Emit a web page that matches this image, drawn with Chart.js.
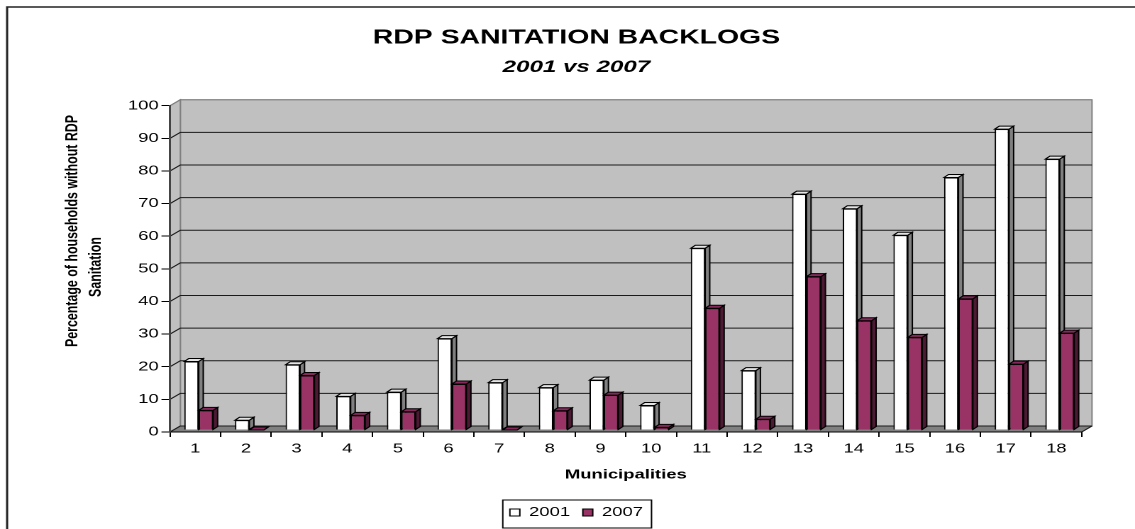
<!DOCTYPE html>
<html>
<head>
<meta charset="utf-8">
<script src="https://cdn.jsdelivr.net/npm/chart.js@4/dist/chart.umd.min.js"></script>
<style>
  html, body { margin: 0; padding: 0; background: #ffffff; overflow: hidden; }
  #wrap { width: 800px; height: 529px; transform: scaleX(1.41875); transform-origin: 0 0; }
  canvas { display: block; }
</style>
</head>
<body>
<div id="wrap"><canvas id="chart" width="800" height="529"></canvas></div>
<script>
// Municipalities on the category axis
const municipalities = ['1','2','3','4','5','6','7','8','9','10','11','12','13','14','15','16','17','18'];
// Share of households without RDP sanitation (%)
const backlog2001 = [21, 3, 20, 10.3, 11.6, 28, 14.5, 13, 15.3, 7.5, 55.7, 18.2, 72.3, 67.8, 59.7, 77.4, 92.2, 83];
const backlog2007 = [6, 0, 16.7, 4.5, 5.6, 14.1, 0, 5.9, 10.7, 0.8, 37.3, 3.3, 47, 33.5, 28.4, 40.2, 20.2, 29.7];
// Value axis ticks
const yTicks = [0, 10, 20, 30, 40, 50, 60, 70, 80, 90, 100];
const seriesNames = ['2001', '2007'];

// 3D look: wall depth, bar placement inside the box and bar thickness
const WALL_DX = 7.3, WALL_DY = -6;
const BAR_SHIFT_X = 2.4, BAR_SHIFT_Y = -2;
const BAR_DX = 3.2, BAR_DY = -3;

Chart.defaults.font.family = "'Liberation Sans', Arial, sans-serif";
Chart.defaults.color = '#000';

function poly(ctx, pts, fill, stroke) {
  ctx.beginPath();
  ctx.moveTo(pts[0][0], pts[0][1]);
  for (let i = 1; i < pts.length; i++) ctx.lineTo(pts[i][0], pts[i][1]);
  ctx.closePath();
  if (fill) { ctx.fillStyle = fill; ctx.fill(); }
  if (stroke) { ctx.strokeStyle = stroke; ctx.lineWidth = 1; ctx.stroke(); }
}

// side and top faces of one bar element
function barFaces(ctx, bar, ds) {
  const {x, y, base, width} = bar.getProps(['x', 'y', 'base', 'width'], true);
  const l = x - width / 2, r = x + width / 2;
  poly(ctx, [[r, y], [r + BAR_DX, y + BAR_DY], [r + BAR_DX, base + BAR_DY], [r, base]], ds.sideColor, '#000');
  poly(ctx, [[l, y], [l + BAR_DX, y + BAR_DY], [r + BAR_DX, y + BAR_DY], [r, y]], ds.topColor, '#000');
}

// Back wall, side wall, floor and wall gridlines; bar depth faces
const boxPlugin = {
  id: 'box3d',
  beforeDraw(chart) {
    const ctx = chart.ctx;
    const {left: L, right: R, top: T, bottom: B} = chart.chartArea;
    const ys = chart.scales.y;
    ctx.save();
    // outer frame
    ctx.strokeStyle = '#222';
    ctx.lineWidth = 1.5;
    ctx.strokeRect(5, 7, 900, 700);
    // back wall
    poly(ctx, [[L + WALL_DX, T + WALL_DY], [R + WALL_DX, T + WALL_DY], [R + WALL_DX, B + WALL_DY], [L + WALL_DX, B + WALL_DY]], '#c0c0c0', '#808080');
    // left wall
    poly(ctx, [[L, T], [L + WALL_DX, T + WALL_DY], [L + WALL_DX, B + WALL_DY], [L, B]], '#c0c0c0', '#808080');
    // floor
    poly(ctx, [[L, B], [R, B], [R + WALL_DX, B + WALL_DY], [L + WALL_DX, B + WALL_DY]], '#808080', null);
    // gridlines on the walls
    ctx.lineWidth = 1;
    yTicks.forEach(v => {
      const y = ys.getPixelForValue(v);
      ctx.strokeStyle = v === yTicks[yTicks.length - 1] ? '#808080' : '#1a1a1a';
      ctx.beginPath();
      ctx.moveTo(L, y);
      ctx.lineTo(L + WALL_DX, y + WALL_DY);
      ctx.lineTo(R + WALL_DX, y + WALL_DY);
      ctx.stroke();
    });
    // right edge of the floor
    ctx.strokeStyle = '#1a1a1a';
    ctx.beginPath();
    ctx.moveTo(R, B);
    ctx.lineTo(R + WALL_DX, B + WALL_DY);
    ctx.stroke();
    ctx.restore();
  },
  beforeDatasetsDraw(chart) {
    chart.ctx.save();
    chart.ctx.translate(BAR_SHIFT_X, BAR_SHIFT_Y);
  },
  afterDatasetsDraw(chart) {
    const ctx = chart.ctx;
    const front = chart.getDatasetMeta(0), back = chart.getDatasetMeta(1);
    const ds0 = chart.data.datasets[0], ds1 = chart.data.datasets[1];
    // per municipality: 2001 depth faces, then the 2007 bar on top of them
    front.data.forEach((bar, i) => {
      barFaces(ctx, bar, ds0);
      const bar2 = back.data[i];
      bar2.draw(ctx);
      barFaces(ctx, bar2, ds1);
    });
    ctx.restore();
  },
  afterDraw(chart) {
    const ctx = chart.ctx;
    ctx.save();
    // value axis title
    ctx.fillStyle = '#000';
    ctx.font = "bold 12.4px 'Liberation Sans', Arial, sans-serif";
    ctx.textAlign = 'center';
    ctx.textBaseline = 'middle';
    [['Percentage of households without RDP', 51.1, 231], ['Sanitation', 67.7, 267]].forEach(([t, x, y]) => {
      ctx.save();
      ctx.translate(x, y);
      ctx.rotate(-Math.PI / 2);
      ctx.fillText(t, 0, 0);
      ctx.restore();
    });
    // legend frame
    const lg = chart.legend;
    const hb = lg.legendHitBoxes;
    if (hb && hb.length) {
      const first = hb[0], last = hb[hb.length - 1];
      ctx.strokeStyle = '#000';
      ctx.lineWidth = 1;
      ctx.strokeRect(first.left - 5, lg.top + 3, last.left + last.width + 6 - (first.left - 5), 28);
    }
    ctx.restore();
  }
};

new Chart(document.getElementById('chart'), {
  type: 'bar',
  data: {
    labels: municipalities,
    datasets: [
      { label: seriesNames[0], data: backlog2001, backgroundColor: '#ffffff', borderColor: '#000', borderWidth: 1,
        sideColor: '#808080', topColor: '#e4e4e4', clip: false },
      { label: seriesNames[1], data: backlog2007, backgroundColor: '#993366', borderColor: '#000', borderWidth: 1,
        sideColor: '#4d1a33', topColor: '#85295a', clip: false }
    ]
  },
  options: {
    responsive: false,
    devicePixelRatio: 2,
    animation: false,
    events: [],
    layout: { padding: { left: 50.2, right: 37.6, top: 0, bottom: 0 } },
    datasets: { bar: { categoryPercentage: 0.569, barPercentage: 1.0 } },
    plugins: {
      title: {
        display: true, text: 'RDP SANITATION BACKLOGS', color: '#000',
        font: { size: 20, weight: 'bold' }, padding: { top: 26, bottom: 0 }
      },
      subtitle: {
        display: true, text: '2001 vs 2007', color: '#000',
        font: { size: 17, weight: 'bold', style: 'italic' }, padding: { top: 7, bottom: 28.3 }
      },
      legend: {
        position: 'bottom',
        labels: {
          boxWidth: 7, boxHeight: 7, padding: 9, color: '#000', font: { size: 13 }
        }
      },
      tooltip: { enabled: false }
    },
    scales: {
      x: {
        grid: { display: true, drawOnChartArea: false, drawTicks: true, tickLength: 5, color: '#000', offset: true },
        border: { display: true, color: '#000', width: 1 },
        ticks: { font: { size: 13 }, color: '#000', padding: 4, maxRotation: 0 },
        title: { display: true, text: 'Municipalities', color: '#000', font: { size: 13, weight: 'bold' }, padding: { top: 0, bottom: 14.5 } },
        afterFit: s => { s.height = 65; }
      },
      y: {
        min: 0, max: 100,
        afterBuildTicks: s => { s.ticks = yTicks.map(v => ({ value: v })); },
        grid: { display: true, drawOnChartArea: false, drawTicks: true, tickLength: 6, color: '#000' },
        border: { display: true, color: '#444', width: 1.5 },
        ticks: { font: { size: 13 }, color: '#000', padding: 2 },
        afterFit: s => { s.width = 69.6; }
      }
    }
  },
  plugins: [boxPlugin]
});
</script>
</body>
</html>
